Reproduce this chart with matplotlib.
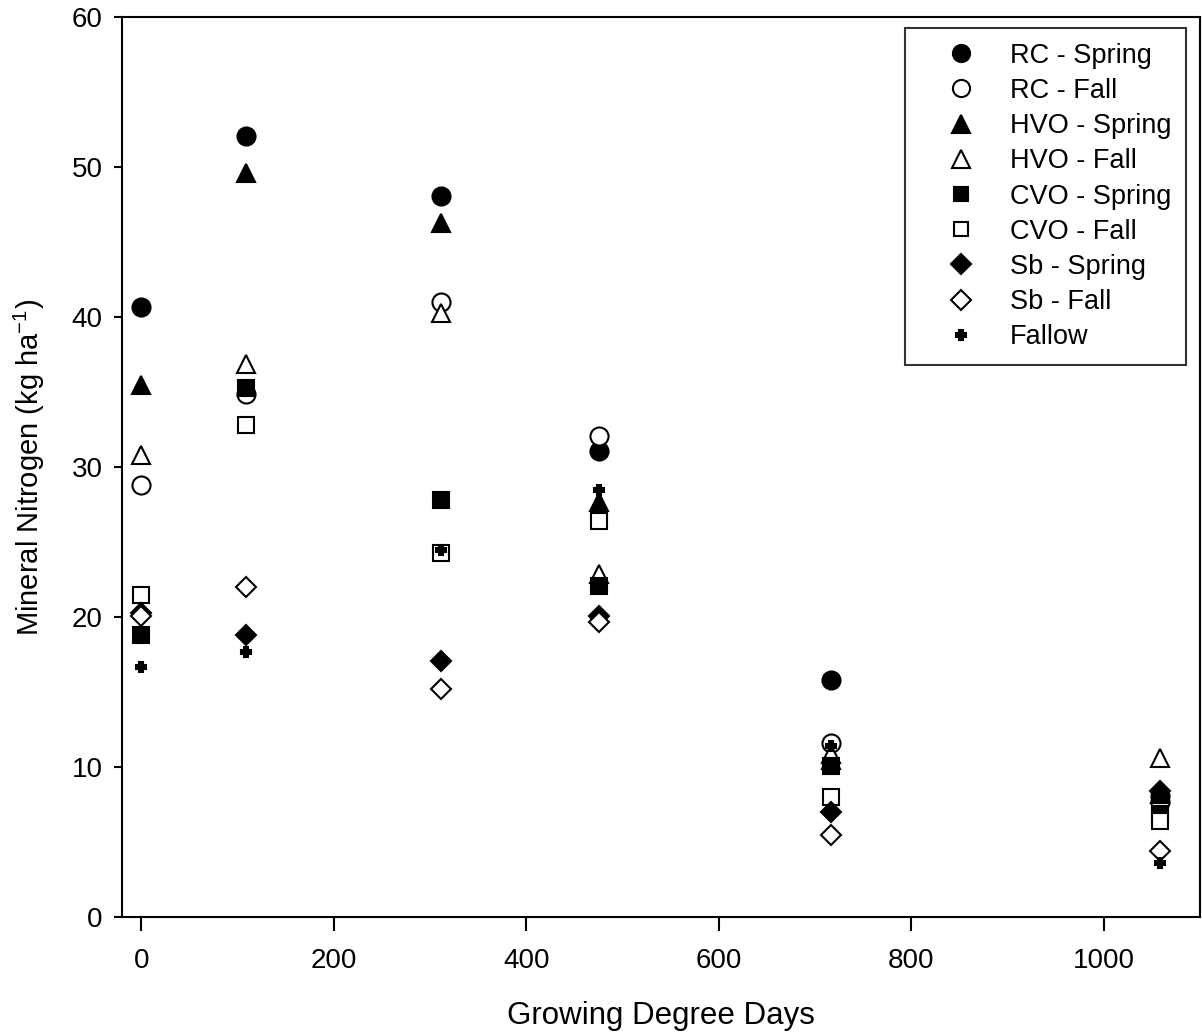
import matplotlib
matplotlib.use("Agg")
import matplotlib.pyplot as plt

plt.rcParams["font.family"] = ["Liberation Sans", "DejaVu Sans"]
plt.rcParams["mathtext.default"] = "regular"

# growing degree days at each sampling date
gdd = [0, 109, 311, 476, 717, 1058]

rc_spring = [40.7, 52.1, 48.1, 31.1, 15.8, 8.1]
rc_fall = [28.8, 34.9, 41.0, 32.1, 11.6, 7.7]
hvo_spring = [35.5, 49.6, 46.3, 27.7, 10.5, 8.2]
hvo_fall = [30.8, 36.9, 40.3, 22.9, 10.9, 10.6]
cvo_spring = [18.8, 35.3, 27.8, 22.1, 10.1, 6.9]
cvo_fall = [21.5, 32.8, 24.3, 26.4, 8.0, 6.4]
sb_spring = [20.3, 18.8, 17.1, 20.1, 7.0, 8.4]
sb_fall = [20.1, 22.0, 15.2, 19.7, 5.5, 4.4]
fallow = [16.7, 17.7, 24.5, 28.5, 11.4, 3.6]

series = [
    ("RC - Spring", rc_spring, "o", "black", 13),
    ("RC - Fall", rc_fall, "o", "white", 13),
    ("HVO - Spring", hvo_spring, "^", "black", 13),
    ("HVO - Fall", hvo_fall, "^", "white", 13),
    ("CVO - Spring", cvo_spring, "s", "black", 11),
    ("CVO - Fall", cvo_fall, "s", "white", 11),
    ("Sb - Spring", sb_spring, "D", "black", 10.5),
    ("Sb - Fall", sb_fall, "D", "white", 10.5),
    ("Fallow", fallow, "P", "black", 7.5),
]

fig = plt.figure(figsize=(12.02, 10.35), dpi=100)
ax = fig.add_axes([122 / 1202, 118 / 1035, 1078 / 1202, 900 / 1035])

for label, vals, mk, face, ms in series:
    ax.plot(gdd, vals, linestyle="none", marker=mk, markersize=ms,
            markerfacecolor=face, markeredgecolor="black",
            markeredgewidth=1.5, label=label)

ax.set_xlim(-20, 1100)
ax.set_ylim(0, 60)
ax.set_xticks([0, 200, 400, 600, 800, 1000])
ax.set_yticks([0, 10, 20, 30, 40, 50, 60])
ax.tick_params(axis="x", direction="out", length=10, width=1.5, labelsize=20, pad=12)
ax.tick_params(axis="y", direction="out", length=6, width=1.5, labelsize=20, pad=8)
for sp in ax.spines.values():
    sp.set_linewidth(1.5)

ax.set_xlabel("Growing Degree Days", fontsize=22.5, labelpad=20)
ax.set_ylabel("Mineral Nitrogen (kg ha$^{-1}$)", fontsize=21, labelpad=18)

leg = ax.legend(loc="upper right", bbox_to_anchor=(0.987, 0.988), borderaxespad=0,
                fontsize=19.5, frameon=True, fancybox=False, edgecolor="black",
                handlelength=3.0, handletextpad=0.3, labelspacing=0.34,
                borderpad=0.55, markerscale=0.95)
leg.get_frame().set_linewidth(1.5)

fig.savefig("out.png", dpi=100)
